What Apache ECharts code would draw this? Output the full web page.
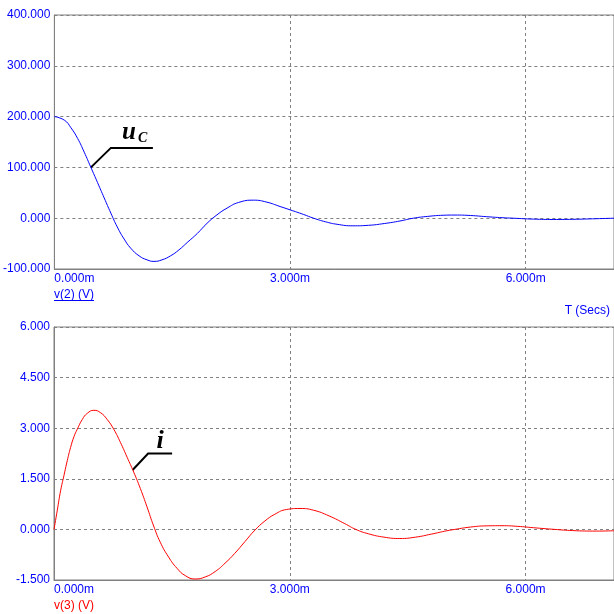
<!DOCTYPE html>
<html>
<head>
<meta charset="utf-8">
<script src="https://cdn.jsdelivr.net/npm/echarts@6/dist/echarts.min.js"></script>
<style>
html,body{margin:0;padding:0;background:#fff;}
#c{width:614px;height:614px;}
</style>
</head>
<body>
<div id="c"></div>
<script>
// time in ms
const timeU = [0, 0.127, 0.211, 0.296, 0.38, 0.465, 0.55, 0.634, 0.719, 0.8, 0.888, 0.972, 1.078, 1.18, 1.268, 1.37, 1.48, 1.585, 1.69, 1.82, 1.944, 2.07, 2.2, 2.346, 2.536, 2.705, 2.874, 3.0, 3.17, 3.3, 3.45, 3.6, 3.8, 4.0, 4.2, 4.4, 4.57, 4.75, 4.95, 5.1, 5.3, 5.5, 5.7, 5.84, 6.1, 6.35, 6.6, 6.9, 7.125];
const valuesU = [200, 193, 178, 157, 130, 100, 70, 40, 10, -17, -41, -59, -74, -82, -85, -82, -74, -62.5, -48, -30, -10, 6.6, 20, 31, 35.5, 31.6, 23, 16.5, 7.5, 0, -7, -12, -15, -14, -10.5, -5.5, 0, 3.5, 5.8, 6.2, 5.3, 3, 1, 0, -1.8, -2.5, -2.2, -1, 0];
const timeI = [0, 0.042, 0.085, 0.127, 0.169, 0.211, 0.254, 0.296, 0.36, 0.423, 0.507, 0.592, 0.676, 0.76, 0.845, 0.93, 1.014, 1.099, 1.183, 1.268, 1.352, 1.458, 1.564, 1.67, 1.796, 1.923, 2.05, 2.177, 2.3, 2.43, 2.557, 2.684, 2.81, 2.96, 3.13, 3.3, 3.5, 3.7, 3.84, 4.0, 4.2, 4.4, 4.6, 4.8, 5.0, 5.1, 5.3, 5.5, 5.7, 5.9, 6.1, 6.37, 6.6, 6.9, 7.125];
const valuesI = [0, 0.57, 1.16, 1.6, 2.04, 2.43, 2.75, 2.97, 3.26, 3.44, 3.53, 3.46, 3.26, 2.97, 2.58, 2.14, 1.7, 1.21, 0.67, 0.1, -0.38, -0.82, -1.15, -1.37, -1.47, -1.41, -1.25, -1.0, -0.71, -0.36, -0.02, 0.25, 0.45, 0.59, 0.62, 0.57, 0.4, 0.17, 0, -0.13, -0.23, -0.27, -0.23, -0.14, -0.04, 0, 0.07, 0.105, 0.11, 0.09, 0.05, 0, -0.035, -0.05, -0.04];
const xRange = [0, 7.125, 3];
const yTopRange = [-100, 400, 100];
const yBotRange = [-1.5, 6, 1.5];
const anchorU = [0.465, 100];
const anchorI = [1.0, 1.76];

const gray = '#808080';
const blue = '#0000ff';
const red = '#ff0000';
const labelFont = {fontFamily: 'Liberation Sans, Arial, sans-serif', fontSize: 12, color: blue};

function xAxis(gi) {
  return {
    type: 'value', gridIndex: gi, min: xRange[0], max: xRange[1], interval: xRange[2],
    axisLine: {show: true, onZero: false, lineStyle: {color: gray}},
    axisTick: {show: false},
    splitLine: {show: true, lineStyle: {color: gray, type: [3, 3], width: 1}},
    axisLabel: Object.assign({margin: 4, showMaxLabel: false, alignMinLabel: 'left',
      formatter: v => v.toFixed(3) + 'm'}, labelFont)
  };
}
function yAxis(gi, r) {
  return {
    type: 'value', gridIndex: gi, min: r[0], max: r[1], interval: r[2],
    axisLine: {show: true, lineStyle: {color: gray}},
    axisTick: {show: false},
    splitLine: {show: true, lineStyle: {color: gray, type: [3, 3], width: 1}},
    axisLabel: Object.assign({margin: 4, formatter: v => v.toFixed(3)}, labelFont)
  };
}

const chart = echarts.init(document.getElementById('c'), null, {renderer: 'canvas'});
chart.setOption({
  animation: false,
  backgroundColor: '#fff',
  grid: [
    {left: 54, top: 15, width: 562, height: 254, show: true, borderColor: gray, borderWidth: 1},
    {left: 54, top: 327, width: 562, height: 253, show: true, borderColor: gray, borderWidth: 1}
  ],
  xAxis: [xAxis(0), xAxis(1)],
  yAxis: [yAxis(0, yTopRange), yAxis(1, yBotRange)],
  series: [
    {type: 'line', xAxisIndex: 0, yAxisIndex: 0, showSymbol: false, smooth: 0.5,
     lineStyle: {color: blue, width: 1}, data: timeU.map((t, k) => [t, valuesU[k]])},
    {type: 'line', xAxisIndex: 1, yAxisIndex: 1, showSymbol: false, smooth: 0.5,
     lineStyle: {color: red, width: 1}, data: timeI.map((t, k) => [t, valuesI[k]])}
  ]
});

const pU = chart.convertToPixel({gridIndex: 0}, anchorU);
const pI = chart.convertToPixel({gridIndex: 1}, anchorI);
const serif = 'Liberation Serif, Times New Roman, serif';
chart.setOption({
  graphic: [
    {type: 'polyline', shape: {points: [[pU[0], pU[1]], [pU[0] + 20, pU[1] - 19.5], [pU[0] + 62, pU[1] - 19.5]]},
     style: {stroke: '#000', lineWidth: 2, fill: null}},
    {type: 'text', x: pU[0] + 31, y: pU[1] - 35, style: {text: 'u', font: 'italic bold 25px ' + serif, fill: '#000', textVerticalAlign: 'middle'}},
    {type: 'text', x: pU[0] + 47, y: pU[1] - 29, style: {text: 'C', font: 'italic bold 14px ' + serif, fill: '#000', textVerticalAlign: 'middle'}},
    {type: 'polyline', shape: {points: [[pI[0], pI[1]], [pI[0] + 15.5, pI[1] - 16.5], [pI[0] + 39.5, pI[1] - 16.5]]},
     style: {stroke: '#000', lineWidth: 2, fill: null}},
    {type: 'text', x: pI[0] + 24, y: pI[1] - 29, style: {text: 'i', font: 'italic bold 26px ' + serif, fill: '#000', textVerticalAlign: 'middle'}},
    {type: 'text', x: 54, y: 295, style: {text: 'v(2) (V)', font: '12px Liberation Sans, Arial, sans-serif', fill: blue, textVerticalAlign: 'middle'}},
    {type: 'line', shape: {x1: 54, y1: 300.5, x2: 94, y2: 300.5}, style: {stroke: blue, lineWidth: 1}},
    {type: 'text', x: 610, y: 311, style: {text: 'T (Secs)', font: '12px Liberation Sans, Arial, sans-serif', fill: blue, textAlign: 'right', textVerticalAlign: 'middle'}},
    {type: 'text', x: 54, y: 606, style: {text: 'v(3) (V)', font: '12px Liberation Sans, Arial, sans-serif', fill: red, textVerticalAlign: 'middle'}}
  ]
});
</script>
</body>
</html>
